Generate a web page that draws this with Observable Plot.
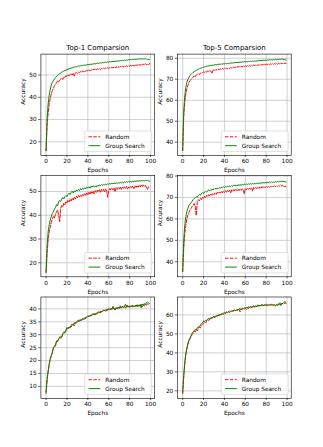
<!DOCTYPE html>
<html><head><meta charset="utf-8">
<script src="https://cdn.jsdelivr.net/npm/d3@7"></script>
<script src="https://cdn.jsdelivr.net/npm/@observablehq/plot@0.6"></script>
<style>
html,body{margin:0;padding:0;background:#fff;}
#fig{position:relative;width:323px;height:447px;overflow:hidden;font-family:"DejaVu Sans";}
#fig svg{position:absolute;left:0;top:0;}
#fig svg g[aria-label$="axis tick"]{stroke-width:0.6px;}
</style></head><body><div id="fig"></div>
<script>
// ---- data ----
const seriesNames = ["Random", "Group Search"];
const titles = ["Top-1 Comparsion", "Top-5 Comparsion"];
const xTicks = [0, 20, 40, 60, 80, 100];
const xDomain = [-4.95, 103.95];

const r1 = [16.0,27.5,33.0,37.0,39.5,41.5,43.0,44.0,45.2,45.8,
46.5,47.4,46.9,47.8,48.2,48.6,48.0,49.2,49.0,49.6,
49.4,50.0,49.6,50.3,50.6,50.0,50.8,49.5,50.9,51.2,
50.7,51.3,51.0,51.6,51.2,51.8,51.4,52.0,51.6,52.1,
51.8,52.3,51.9,52.4,52.0,52.6,52.2,52.7,52.3,52.8,
52.5,52.9,52.5,53.0,52.7,53.1,52.8,53.2,52.9,53.3,
53.0,53.4,53.1,53.5,53.1,53.6,53.2,53.7,53.3,53.8,
53.4,53.9,53.5,54.0,53.6,54.1,53.7,54.2,53.8,54.3,
53.9,54.4,54.0,54.5,54.0,54.6,54.1,54.7,54.2,54.8,
54.3,54.9,54.4,55.0,54.5,55.1,54.6,54.9,54.4,55.2];
const g1 = [16.0,30.5,37.0,41.0,43.5,45.5,46.8,47.4,48.2,48.9,
49.4,49.8,50.3,50.6,50.9,51.3,51.5,51.8,52.0,52.2,
52.4,52.6,52.8,53.0,53.1,53.3,53.4,53.6,53.7,53.6,
53.9,54.1,54.0,54.2,54.3,54.2,54.4,54.5,54.4,54.6,
54.7,54.6,54.8,54.9,54.8,55.0,55.1,55.0,55.2,55.3,
55.2,55.4,55.5,55.4,55.6,55.5,55.7,55.8,55.7,55.9,
55.8,56.0,55.9,56.1,56.0,56.2,56.1,56.3,56.2,56.4,
56.3,56.5,56.4,56.6,56.5,56.7,56.6,56.8,56.7,56.9,
56.8,57.0,56.9,57.1,57.0,57.1,57.0,57.2,57.1,57.3,
57.2,57.3,57.1,57.3,57.2,57.3,57.2,57.1,57.0,56.9];
const r2 = [36.0,52.0,59.0,63.0,65.5,67.0,68.5,69.3,70.0,70.5,
71.0,71.6,71.2,72.0,72.3,72.6,72.2,73.0,72.8,73.3,
73.5,73.1,73.7,73.4,74.0,73.6,74.2,73.8,72.8,74.3,
74.5,74.1,74.7,74.3,74.9,74.5,75.0,74.6,75.1,74.8,
75.2,74.9,75.4,75.0,75.5,75.1,75.6,75.3,75.8,75.4,
75.9,75.5,76.0,75.7,76.1,75.8,76.2,75.9,76.3,76.0,
76.4,76.1,76.5,76.2,76.6,76.3,76.7,76.4,76.8,76.5,
76.8,76.5,76.9,76.6,77.0,76.7,77.1,76.8,77.2,76.9,
77.2,76.9,77.3,77.0,77.4,77.1,77.5,77.1,77.5,77.2,
77.6,77.2,77.6,77.3,77.7,77.3,77.8,77.4,77.7,77.6];
const g2 = [36.0,55.0,62.0,66.0,68.5,70.0,71.0,71.8,72.3,72.8,
73.3,73.6,73.9,74.2,74.5,74.8,75.0,75.2,75.4,75.6,
75.8,75.9,76.0,76.2,76.3,76.4,76.5,76.6,76.7,76.6,
76.8,76.9,77.0,76.9,77.1,77.2,77.1,77.3,77.2,77.4,
77.3,77.5,77.4,77.6,77.5,77.7,77.6,77.8,77.7,77.9,
77.9,78.0,77.9,78.1,78.0,78.2,78.1,78.3,78.2,78.4,
78.3,78.4,78.3,78.5,78.4,78.6,78.5,78.7,78.6,78.7,
78.6,78.8,78.7,78.9,78.8,79.0,78.9,79.1,79.0,79.1,
79.0,79.2,79.1,79.3,79.2,79.3,79.2,79.4,79.3,79.5,
79.3,79.5,79.4,79.6,79.5,79.7,79.6,79.5,79.3,79.2];
const r3 = [16.0,24.0,30.0,33.0,35.0,37.0,38.5,39.5,38.8,40.5,
41.5,42.3,40.2,37.3,43.0,44.2,43.6,45.0,44.4,45.8,
45.2,46.4,45.6,46.8,46.0,47.2,46.4,47.6,46.8,48.0,
47.3,48.4,47.6,48.6,47.9,48.9,48.2,49.2,48.4,49.5,
48.7,49.8,48.9,50.0,49.2,50.2,49.0,50.4,49.5,50.6,
49.8,50.8,49.6,50.9,50.1,51.0,49.8,51.1,50.3,47.6,
50.5,51.3,50.6,51.4,50.7,51.5,49.9,51.6,50.9,51.7,
51.0,51.8,50.8,51.9,51.2,52.0,51.3,52.1,51.0,51.9,
51.4,52.2,51.6,52.3,51.2,52.4,51.7,52.5,51.8,52.6,
51.9,52.7,52.0,52.8,52.1,52.6,51.8,50.8,52.0,51.9];
const g3 = [16.0,27.0,33.0,36.0,38.0,39.5,40.8,41.5,42.6,43.2,
44.5,44.0,45.6,46.2,45.8,46.8,47.5,46.9,47.8,48.3,
47.9,48.8,49.3,48.7,49.6,50.1,49.4,50.2,49.8,50.6,
50.3,50.9,50.4,51.2,50.7,51.4,51.0,51.6,51.1,51.8,
51.5,52.0,51.4,52.2,51.8,52.4,52.0,52.3,51.9,52.6,
52.2,52.8,52.4,52.9,52.5,53.1,52.7,53.2,52.8,53.3,
53.0,53.4,53.1,53.5,53.2,53.6,53.3,53.7,53.4,53.8,
53.5,53.9,53.6,54.0,53.6,54.1,53.8,54.2,53.9,54.3,
54.0,54.3,54.0,54.4,54.1,54.4,54.2,54.5,54.3,54.6,
54.4,54.6,54.4,54.6,54.5,54.7,54.6,54.7,54.5,54.4];
const r4 = [35.4,46.0,53.0,57.0,60.0,61.8,63.0,64.2,64.8,65.7,
66.3,67.2,65.8,61.6,68.0,69.0,68.4,69.6,69.0,70.2,
69.6,70.6,70.0,71.0,70.4,71.3,70.7,71.6,71.0,71.9,
71.3,72.1,71.5,72.4,71.8,72.6,72.0,72.8,72.1,73.0,
72.3,73.2,72.5,73.3,72.6,73.5,72.0,73.6,72.9,73.7,
73.0,73.8,73.1,73.9,73.2,74.0,73.3,74.1,73.5,71.6,
74.2,73.6,74.3,73.7,74.4,73.8,74.5,73.0,74.6,74.0,
74.7,74.1,74.8,74.2,74.9,74.3,75.0,74.4,75.0,74.5,
75.1,74.6,75.2,74.7,75.3,74.8,75.4,74.9,75.5,75.0,
75.5,75.1,75.6,75.2,75.7,75.3,75.6,74.9,75.4,75.0];
const g4 = [35.4,50.0,57.0,61.0,63.5,65.0,66.3,66.9,67.5,68.2,
69.0,69.5,69.9,70.4,70.0,71.0,71.4,71.0,71.8,72.2,
71.8,72.6,72.9,72.5,73.2,73.5,73.1,73.7,73.4,74.0,
73.7,74.2,73.9,74.4,74.1,74.6,74.3,74.8,74.5,75.0,
74.7,75.1,74.8,75.3,75.0,75.4,75.1,75.6,75.2,75.7,
75.4,75.8,75.5,75.9,75.6,76.0,75.7,76.1,75.8,76.2,
75.9,76.3,76.0,76.4,76.1,76.5,76.2,76.5,76.3,76.6,
76.4,76.7,76.4,76.8,76.5,76.9,76.6,77.0,76.7,77.0,
76.8,77.1,76.9,77.2,76.9,77.3,77.0,77.3,77.1,77.4,
77.2,77.5,77.2,77.6,77.3,77.7,77.4,77.6,77.3,77.2];
const r5 = [7.3,12.5,15.6,18.4,20.4,22.0,23.0,24.6,25.8,25.6,
27.0,27.8,28.0,29.2,28.6,29.6,30.0,30.8,31.2,31.4,
32.2,32.8,32.5,33.2,33.0,33.8,34.0,33.4,34.8,34.5,
35.0,35.6,35.2,35.9,35.5,36.1,36.4,36.0,36.8,36.6,
37.0,37.4,37.1,37.8,37.4,38.0,38.2,37.7,38.4,38.1,
38.6,38.9,38.5,39.2,38.8,39.4,39.5,39.0,39.8,39.5,
39.8,40.1,39.7,40.3,39.9,40.4,39.7,40.5,40.2,40.6,
40.1,40.8,40.2,41.0,40.4,40.9,40.3,41.5,40.8,41.1,
40.6,41.2,40.9,41.4,40.8,41.3,40.9,41.6,41.0,41.4,
41.1,41.8,40.8,41.5,41.2,41.9,41.4,42.0,41.6,41.8];
const g5 = [7.9,13.0,16.0,18.8,20.8,21.8,23.2,25.0,25.4,26.2,
27.6,27.3,28.4,28.9,29.3,29.0,30.4,31.0,30.6,31.8,
32.8,32.3,33.0,32.6,33.6,34.2,33.7,34.6,34.3,35.0,
35.4,35.1,35.8,35.3,36.0,36.3,35.9,36.6,36.3,37.0,
37.3,36.9,37.5,37.2,37.8,38.2,37.6,38.3,37.9,38.6,
38.8,38.4,39.1,38.7,39.3,39.6,39.2,39.7,39.3,39.9,
40.0,39.6,40.2,39.8,41.0,40.1,39.5,40.4,40.0,40.7,
40.3,41.2,40.4,40.9,40.5,41.3,41.8,40.6,41.4,40.7,
41.1,40.8,41.3,40.7,41.2,40.9,41.5,40.8,41.6,41.0,
41.7,40.4,41.9,41.3,42.1,41.6,42.5,42.7,42.3,42.0];
const r6 = [18.5,27.0,34.0,39.0,42.0,44.5,46.2,47.5,48.4,49.6,
50.4,51.5,51.0,52.2,51.6,52.8,53.6,53.0,54.4,55.0,
55.6,56.2,55.8,56.8,57.4,57.0,58.2,57.8,58.6,58.2,
59.0,58.6,59.4,59.1,59.8,59.5,60.2,60.0,60.6,60.3,
61.0,60.7,61.4,61.0,61.6,61.3,61.9,61.6,62.2,61.9,
62.4,62.1,62.7,62.3,62.9,61.6,63.1,62.7,63.3,63.0,
63.5,62.8,63.9,63.3,64.1,63.5,64.3,63.7,64.6,63.9,
64.8,64.2,65.0,64.4,65.2,64.6,65.3,64.8,65.1,64.7,
65.3,64.9,65.4,65.0,65.5,65.1,65.4,64.9,65.5,65.0,
65.6,65.2,65.8,65.3,65.9,65.5,66.2,65.8,66.3,66.0];
const g6 = [19.2,28.0,35.0,39.5,42.5,45.0,46.8,47.8,49.0,50.2,
51.0,51.8,52.3,52.0,53.2,53.8,53.5,54.6,55.5,55.8,
56.8,56.4,57.2,57.0,57.8,58.1,57.7,58.6,58.3,59.0,
59.2,58.8,59.6,59.3,60.0,60.3,59.9,60.6,60.4,61.0,
61.3,60.9,61.6,61.2,61.9,62.0,61.7,62.2,61.9,62.5,
62.6,62.2,62.9,62.6,63.2,63.3,62.9,63.5,63.2,63.8,
63.6,64.0,63.4,64.4,63.8,64.6,63.9,64.3,64.9,64.2,
64.8,64.4,65.3,64.6,65.1,64.7,65.6,64.9,65.2,65.5,
65.0,65.4,64.9,65.3,65.0,65.6,65.1,65.4,65.0,64.6,
65.5,64.8,65.7,66.4,64.9,66.2,65.9,66.6,67.0,66.6];

const yDom1 = [13.9, 59.4], yT1 = [20, 30, 40, 50];
const yDom2 = [33.7, 82.0], yT2 = [40, 50, 60, 70, 80];
const yDom3 = [14.1, 56.7], yT3 = [20, 30, 40, 50];
const yDom4 = [33.0, 80.2], yT4 = [40, 50, 60, 70, 80];
const yDom5 = [5.4, 44.6],  yT5 = [10, 15, 20, 25, 30, 35, 40];
const yDom6 = [16.1, 69.4], yT6 = [20, 30, 40, 50, 60];

// ---- layout ----
const W = 323, H = 447;
const colX = [[40.4, 154.2], [177.0, 290.7]];
const rowY = [[53.6, 154.9], [175.1, 276.3], [296.5, 397.8]];
const RED = "#ff0000", GREEN = "#008000";
const FS = 5.8;

const panels = [
  {row: 0, col: 0, title: titles[0], random: r1, group: g1, yDomain: yDom1, yTicks: yT1},
  {row: 0, col: 1, title: titles[1], random: r2, group: g2, yDomain: yDom2, yTicks: yT2},
  {row: 1, col: 0, title: null, random: r3, group: g3, yDomain: yDom3, yTicks: yT3},
  {row: 1, col: 1, title: null, random: r4, group: g4, yDomain: yDom4, yTicks: yT4},
  {row: 2, col: 0, title: null, random: r5, group: g5, yDomain: yDom5, yTicks: yT5},
  {row: 2, col: 1, title: null, random: r6, group: g6, yDomain: yDom6, yTicks: yT6}
];

const fig = document.getElementById("fig");
for (const p of panels) {
  const [x0, x1] = colX[p.col], [y0, y1] = rowY[p.row];
  const marks = [
    Plot.ruleX(xTicks, {stroke: "#b0b0b0", strokeWidth: 0.6}),
    Plot.ruleY(p.yTicks, {stroke: "#b0b0b0", strokeWidth: 0.6}),
    Plot.line(p.random, {x: (d, i) => i, y: d => d, stroke: RED, strokeWidth: 0.95, strokeDasharray: "3.4,1.5"}),
    Plot.line(p.group, {x: (d, i) => i, y: d => d, stroke: GREEN, strokeWidth: 0.95}),
    Plot.frame({stroke: "#000", strokeWidth: 0.6}),
    Plot.text(["Epochs"], {text: d => d, frameAnchor: "bottom", lineAnchor: "bottom", dy: 17, fontSize: FS, fill: "#000"}),
    Plot.text(["Accuracy"], {text: d => d, frameAnchor: "left", rotate: -90, dx: -17.7, fontSize: FS, fill: "#000"})
  ];
  if (p.title) marks.push(Plot.text([p.title], {text: d => d, frameAnchor: "top", lineAnchor: "bottom", dy: -3.7, fontSize: 7, fill: "#000"}));
  const chart = Plot.plot({
    width: W, height: H,
    marginLeft: x0, marginRight: W - x1, marginTop: y0, marginBottom: H - y1,
    style: {background: "transparent", fontFamily: "DejaVu Sans", fontSize: FS + "px", color: "#000", overflow: "visible"},
    x: {domain: xDomain, ticks: xTicks, tickSize: 2.2, tickPadding: 1.6, label: null, tickFormat: d => String(d)},
    y: {domain: p.yDomain, ticks: p.yTicks, tickSize: 2.2, tickPadding: 2.0, label: null, tickFormat: d => String(d)},
    marks
  });
  fig.append(chart);
}

// ---- legends (lower right of each panel) ----
const leg = d3.select(fig).append("svg").attr("width", W).attr("height", H)
  .style("font-family", "DejaVu Sans").style("font-size", FS + "px");
const LW = 67, LH = 20.5;
for (const p of panels) {
  const x1 = colX[p.col][1], y1 = rowY[p.row][1];
  const lx = x1 - 2.5 - LW, ly = y1 - 3.4 - LH;
  const g = leg.append("g").attr("transform", `translate(${lx},${ly})`);
  g.append("rect").attr("width", LW).attr("height", LH).attr("rx", 1.2)
    .attr("fill", "rgba(255,255,255,0.8)").attr("stroke", "#cccccc").attr("stroke-width", 0.6);
  const rows = [{name: seriesNames[0], color: RED, dash: "3.4,1.5", cy: 5.8},
                {name: seriesNames[1], color: GREEN, dash: null, cy: 14.7}];
  for (const r of rows) {
    const l = g.append("line").attr("x1", 3.8).attr("x2", 15.6).attr("y1", r.cy).attr("y2", r.cy)
      .attr("stroke", r.color).attr("stroke-width", 0.95);
    if (r.dash) l.attr("stroke-dasharray", r.dash);
    g.append("text").attr("x", 20.6).attr("y", r.cy).attr("dy", "0.35em").attr("fill", "#000").text(r.name);
  }
}
</script></body></html>
